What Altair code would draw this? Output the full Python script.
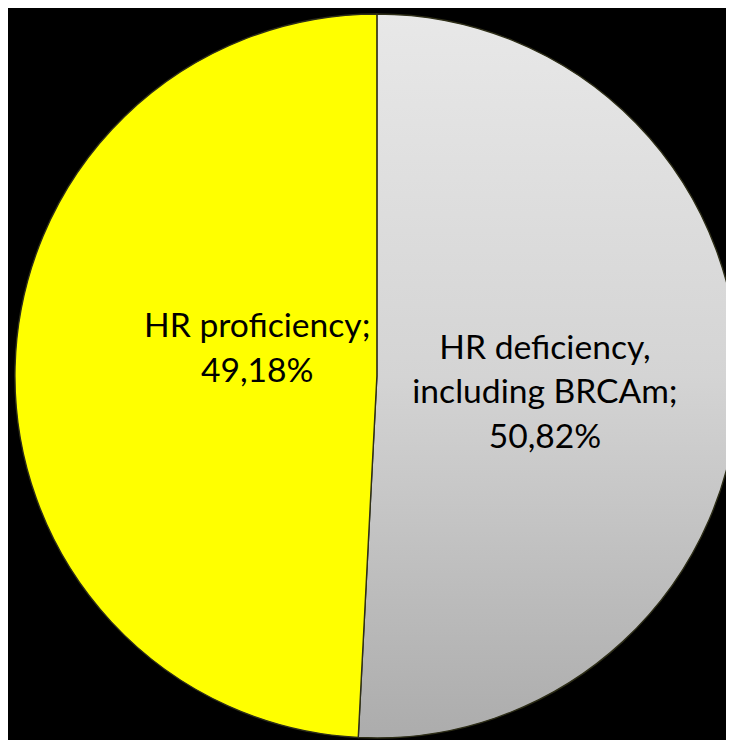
import math
import altair as alt
import pandas as pd

categories = ["HR deficiency, including BRCAm", "HR proficiency"]
values = [50.82, 49.18]
labels = ["HR deficiency,\nincluding BRCAm;\n50,82%", "HR proficiency;\n49,18%"]
order = [0, 1]

df = pd.DataFrame({"cat": categories, "value": values, "label": labels, "idx": order})

W, H = 726, 732
CX, CY, R = 373, 368, 366

gray_grad = {
    "gradient": "linear", "x1": 0, "y1": 0, "x2": 0, "y2": 1,
    "stops": [
        {"offset": 0, "color": "#e8e8e8"},
        {"offset": 0.5, "color": "#d4d4d4"},
        {"offset": 1, "color": "#acacac"},
    ],
}

theta_scale = alt.Scale(domain=[0, 100], range=[0, 2 * math.pi])

base = alt.Chart(df).transform_window(
    end="sum(value)", sort=[alt.SortField("idx")], frame=[None, 0]
).transform_calculate(
    start="datum.end - datum.value",
    mid="datum.end - datum.value / 2",
)

arcs = base.mark_arc(radius=R, stroke="#2e2e18", strokeWidth=1.4).encode(
    theta=alt.Theta("start:Q", scale=theta_scale, stack=None),
    theta2="end:Q",
    x=alt.value(CX),
    y=alt.value(CY),
    fill=alt.condition(alt.datum.cat == categories[0], alt.value(gray_grad), alt.value("#ffff00")),
)

def label_layer(cat, r, dy):
    return base.transform_filter(alt.datum.cat == cat).mark_text(
        font="Lato", fontSize=34, lineHeight=45, color="#000000",
        align="center", baseline="middle", lineBreak="\n", radius=r, dy=dy,
    ).encode(
        theta=alt.Theta("mid:Q", scale=theta_scale, stack=None),
        x=alt.value(CX),
        y=alt.value(CY),
        text="label:N",
    )

chart = alt.layer(
    arcs,
    label_layer(categories[0], 170, -32),
    label_layer(categories[1], 121, -46),
).properties(
    width=W, height=H, background="#000000", padding=0,
    autosize=alt.AutoSizeParams(type="none"),
).configure_view(stroke=None)

chart.save("out.html", embed_options={"renderer": "svg", "actions": False})
